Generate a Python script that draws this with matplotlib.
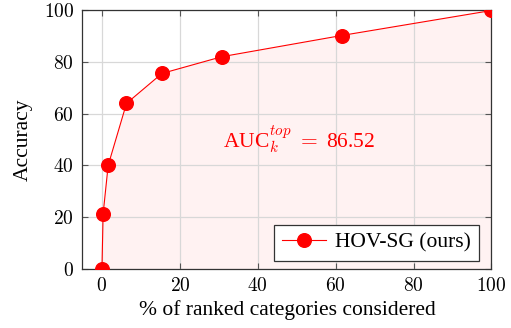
import matplotlib
matplotlib.use("Agg")
import matplotlib.pyplot as plt
from matplotlib.ticker import FuncFormatter

# fraction of ranked categories (%) vs accuracy
pct = [0, 0.3, 1.6, 6.3, 15.4, 30.8, 61.5, 100]
acc = [0, 21.2, 40.0, 64.0, 75.6, 82.1, 90.3, 100]
label = "HOV-SG (ours)"
auc = 86.52

plt.rcParams["font.family"] = "Liberation Serif"
plt.rcParams["mathtext.fontset"] = "cm"

fig = plt.figure(figsize=(5.11, 3.28), dpi=100)
ax = fig.add_axes([0.1614, 0.1814, 0.8004, 0.7866])

ax.fill_between(pct, acc, 0, color="#fff2f2", zorder=0, lw=0)
ax.plot(pct, acc, color="red", lw=0.8, marker="o", ms=9.8, label=label, zorder=3)

ax.text(31, 50, r"AUC$_k^{top}$ $=$ %.2f" % auc, color="red", fontsize=15.5,
        va="center", ha="left")

ax.set_xlim(-5, 100)
ax.set_ylim(0, 100)
ax.set_xticks([0, 20, 40, 60, 80, 100])
ax.set_yticks([0, 20, 40, 60, 80, 100])
fmt = FuncFormatter(lambda v, p: "$%g$" % v)
ax.xaxis.set_major_formatter(fmt)
ax.yaxis.set_major_formatter(fmt)
ax.grid(True, color="#d8d8d8", lw=0.9, zorder=1)
ax.set_axisbelow(True)
ax.tick_params(direction="in", length=4, color="#555555", labelsize=14,
               top=True, right=True, pad=6)
for s in ax.spines.values():
    s.set_color("#333333")
    s.set_linewidth(0.9)

ax.set_xlabel("% of ranked categories considered", fontsize=15.5, labelpad=4)
ax.set_ylabel("Accuracy", fontsize=15.5, labelpad=8)

leg = ax.legend(loc="lower right", bbox_to_anchor=(0.9694, 0.029),
                borderaxespad=0, fontsize=15.5, fancybox=False, framealpha=1,
                edgecolor="#333333", borderpad=0.38, handlelength=2.05,
                handletextpad=0.4)
leg.get_frame().set_linewidth(0.9)

fig.savefig("out.png", dpi=100)
